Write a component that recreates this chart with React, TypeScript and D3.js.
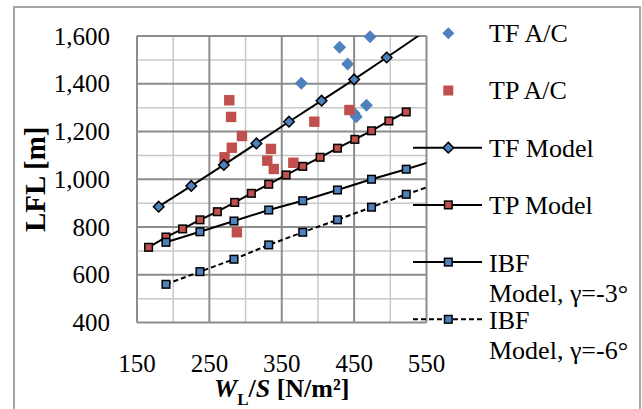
import React from "react";
import * as d3 from "d3";

const xTickValues = [150, 250, 350, 450, 550];
const yTickValues = [400, 600, 800, 1000, 1200, 1400, 1600];

const tfAcX = [377, 430, 441, 472, 467, 450, 453];
const tfAcY = [1402, 1553, 1483, 1597, 1310, 1276, 1262];

const tpAcX = [277.5, 280, 295, 281, 271, 335, 330, 339, 366, 395, 443.5, 288];
const tpAcY = [1331, 1261, 1181, 1132, 1092, 1127, 1078, 1043, 1069, 1241, 1290, 778];

const tfModelX = [180, 225, 270, 315, 360, 405, 450, 495, 540];
const tfModelY = [885, 972, 1060, 1150, 1241, 1329, 1418, 1510, 1603];

const tpModelX = [166, 190, 213, 237, 261, 285, 308, 332, 356, 379, 403, 427, 451, 474, 498, 522];
const tpModelY = [715, 758, 792, 830, 864, 903, 941, 979, 1018, 1054, 1092, 1130, 1167, 1203, 1244, 1282];

const ibfX = [190, 237, 284, 332, 379, 427, 474, 522, 569];
const ibf3Y = [736, 780, 825, 871, 910, 955, 1000, 1042, 1086];
const ibf6Y = [560, 613, 665, 725, 778, 830, 883, 937, 985];

const BLUE = "#4F81BD";
const RED = "#C0504D";
const FONT = "'Liberation Serif', 'Times New Roman', serif";

const W = 642;
const H = 409;
const PL = 137, PR = 426.5, PT = 36, PB = 322.5;

const x = d3.scaleLinear().domain([150, 550]).range([PL, PR]);
const y = d3.scaleLinear().domain([400, 1600]).range([PB, PT]);

type Pt = [number, number];
const zip = (xs: number[], ys: number[]): Pt[] => xs.map((v, i) => [v, ys[i]]);
const inRange = (p: Pt) => p[0] >= 150 && p[0] <= 550 && p[1] >= 400 && p[1] <= 1600;

const diamond = (cx: number, cy: number, r: number) =>
  `M${cx},${cy - r}L${cx + r},${cy}L${cx},${cy + r}L${cx - r},${cy}Z`;

const lineGen = d3
  .line<Pt>()
  .x((d) => x(d[0]))
  .y((d) => y(d[1]));

export default function App() {
  const minorX = d3.range(150, 551, 50).filter((v) => (v - 150) % 100 !== 0);
  const majorX = d3.range(150, 551, 100);
  const minorY = d3.range(400, 1601, 100).filter((v) => v % 200 !== 0);
  const majorY = d3.range(400, 1601, 200);

  const tfAc = zip(tfAcX, tfAcY).filter(inRange);
  const tpAc = zip(tpAcX, tpAcY).filter(inRange);
  const tfModel = zip(tfModelX, tfModelY);
  const tpModel = zip(tpModelX, tpModelY);
  const ibf3 = zip(ibfX, ibf3Y);
  const ibf6 = zip(ibfX, ibf6Y);

  const legendX = 448.3;
  const legendY0 = 33.3;
  const legendStep = 57.2;
  const textX = 489;

  return (
    <svg
      width={W}
      height={H}
      style={{ position: "absolute", left: 0, top: 0, background: "#fff" }}
      fontFamily={FONT}
    >
      <defs>
        <clipPath id="plotClip">
          <rect x={PL} y={PT} width={PR - PL} height={PB - PT} />
        </clipPath>
      </defs>
      <rect x={0} y={0} width={W} height={H} fill="#fff" />
      <rect x={14} y={7} width={626} height={412} fill="#fff" stroke="#a6a6a6" strokeWidth={2} />

      {/* gridlines */}
      {minorX.map((v) => (
        <line key={"mx" + v} x1={x(v)} x2={x(v)} y1={PT} y2={PB} stroke="#c8c8c8" strokeWidth={1.5} />
      ))}
      {minorY.map((v) => (
        <line key={"my" + v} x1={PL} x2={PR} y1={y(v)} y2={y(v)} stroke="#c8c8c8" strokeWidth={1.5} />
      ))}
      {majorX.map((v) => (
        <line key={"Mx" + v} x1={x(v)} x2={x(v)} y1={PT} y2={PB} stroke="#8c8c8c" strokeWidth={2} />
      ))}
      {majorY.map((v) => (
        <line key={"My" + v} x1={PL} x2={PR} y1={y(v)} y2={y(v)} stroke="#8c8c8c" strokeWidth={2} />
      ))}

      {/* tick labels */}
      {yTickValues.map((v) => (
        <text key={"yt" + v} x={110} y={y(v)} dy="0.34em" textAnchor="end" fontSize={25} fill="#000">
          {d3.format(",")(v)}
        </text>
      ))}
      {xTickValues.map((v) => (
        <text key={"xt" + v} x={x(v)} y={372} textAnchor="middle" fontSize={25} fill="#000">
          {v}
        </text>
      ))}

      {/* axis titles */}
      <text
        transform={`translate(35,${(PT + PB) / 2}) rotate(-90)`}
        textAnchor="middle"
        dy="0.34em"
        fontSize={29}
        fontWeight="bold"
      >
        LFL [m]
      </text>
      <text x={(PL + PR) / 2} y={397} textAnchor="middle" fontSize={26} fontWeight="bold">
        <tspan fontStyle="italic">W</tspan>
        <tspan fontSize={17} dy={8}>L</tspan>
        <tspan dy={-8}>/</tspan>
        <tspan fontStyle="italic">S</tspan>
        <tspan> [N/m²]</tspan>
      </text>

      {/* A/C scatter */}
      {tfAc.map((p, i) => (
        <path key={"tfac" + i} d={diamond(x(p[0]), y(p[1]), 6.5)} fill={BLUE} />
      ))}
      {tpAc.map((p, i) => (
        <rect key={"tpac" + i} x={x(p[0]) - 5.2} y={y(p[1]) - 5.2} width={10.4} height={10.4} fill={RED} />
      ))}

      {/* model lines */}
      <g clipPath="url(#plotClip)">
        <path d={lineGen(tfModel) || ""} fill="none" stroke="#000" strokeWidth={2} />
      </g>
      {tfModel.filter(inRange).map((p, i) => (
        <path key={"tfm" + i} d={diamond(x(p[0]), y(p[1]), 5.3)} fill={BLUE} stroke="#000" strokeWidth={1.5} />
      ))}
      <g clipPath="url(#plotClip)">
        <path d={lineGen(tpModel) || ""} fill="none" stroke="#000" strokeWidth={2} />
      </g>
      {tpModel.filter(inRange).map((p, i) => (
        <rect key={"tpm" + i} x={x(p[0]) - 3.8} y={y(p[1]) - 3.8} width={7.6} height={7.6} fill={RED} stroke="#000" strokeWidth={1.5} />
      ))}
      <g clipPath="url(#plotClip)">
        <path d={lineGen(ibf3) || ""} fill="none" stroke="#000" strokeWidth={2} />
      </g>
      {ibf3.filter(inRange).map((p, i) => (
        <rect key={"i3" + i} x={x(p[0]) - 3.8} y={y(p[1]) - 3.8} width={7.6} height={7.6} fill={BLUE} stroke="#000" strokeWidth={1.5} />
      ))}
      <g clipPath="url(#plotClip)">
        <path d={lineGen(ibf6) || ""} fill="none" stroke="#000" strokeWidth={2} strokeDasharray="5,3" />
      </g>
      {ibf6.filter(inRange).map((p, i) => (
        <rect key={"i6" + i} x={x(p[0]) - 3.8} y={y(p[1]) - 3.8} width={7.6} height={7.6} fill={BLUE} stroke="#000" strokeWidth={1.5} />
      ))}

      {/* legend */}
      <g fontSize={26}>
        <path d={diamond(legendX, legendY0, 6)} fill={BLUE} />
        <text x={textX} y={legendY0} dy="0.34em">TF A/C</text>

        <rect x={legendX - 5} y={legendY0 + legendStep - 5} width={10} height={10} fill={RED} />
        <text x={textX} y={legendY0 + legendStep} dy="0.34em">TP A/C</text>

        <line x1={413} x2={482} y1={legendY0 + 2 * legendStep} y2={legendY0 + 2 * legendStep} stroke="#000" strokeWidth={2} />
        <path d={diamond(legendX, legendY0 + 2 * legendStep, 5.3)} fill={BLUE} stroke="#000" strokeWidth={1.5} />
        <text x={textX} y={legendY0 + 2 * legendStep} dy="0.34em">TF Model</text>

        <line x1={413} x2={482} y1={legendY0 + 3 * legendStep} y2={legendY0 + 3 * legendStep} stroke="#000" strokeWidth={2} />
        <rect x={legendX - 3.8} y={legendY0 + 3 * legendStep - 3.8} width={7.6} height={7.6} fill={RED} stroke="#000" strokeWidth={1.5} />
        <text x={textX} y={legendY0 + 3 * legendStep} dy="0.34em">TP Model</text>

        <line x1={413} x2={482} y1={legendY0 + 4 * legendStep} y2={legendY0 + 4 * legendStep} stroke="#000" strokeWidth={2} />
        <rect x={legendX - 3.8} y={legendY0 + 4 * legendStep - 3.8} width={7.6} height={7.6} fill={BLUE} stroke="#000" strokeWidth={1.5} />
        <text x={textX} y={legendY0 + 4 * legendStep + 9.5}>IBF</text>
        <text x={textX} y={legendY0 + 4 * legendStep + 39.5}>Model, γ=-3°</text>

        <line x1={413} x2={482} y1={legendY0 + 5 * legendStep} y2={legendY0 + 5 * legendStep} stroke="#000" strokeWidth={2} strokeDasharray="5,3" />
        <rect x={legendX - 3.8} y={legendY0 + 5 * legendStep - 3.8} width={7.6} height={7.6} fill={BLUE} stroke="#000" strokeWidth={1.5} />
        <text x={textX} y={legendY0 + 5 * legendStep + 9.5}>IBF</text>
        <text x={textX} y={legendY0 + 5 * legendStep + 39.5}>Model, γ=-6°</text>
      </g>
    </svg>
  );
}
